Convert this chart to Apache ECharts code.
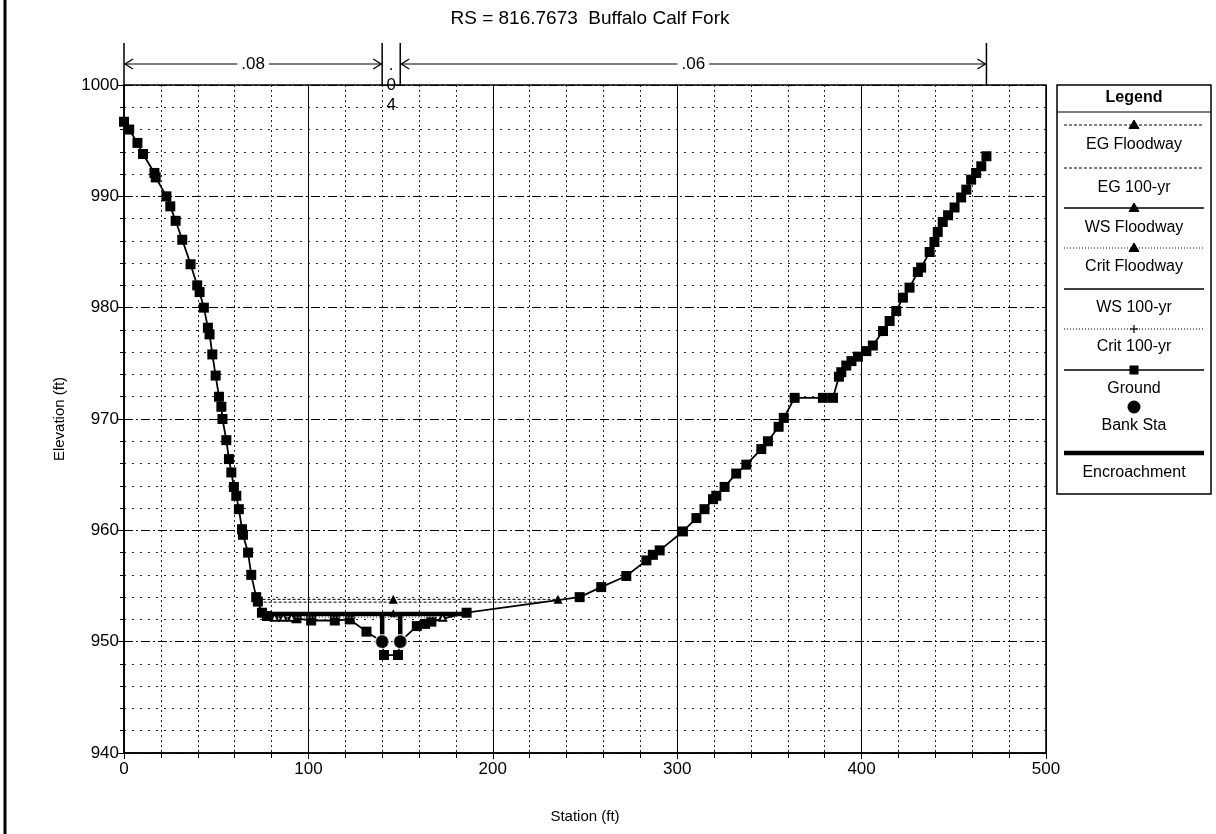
<!DOCTYPE html>
<html>
<head>
<meta charset="utf-8">
<script src="https://cdn.jsdelivr.net/npm/echarts@6/dist/echarts.min.js"></script>
<style>
html, body { margin: 0; padding: 0; background: #fff; }
#chart { width: 1216px; height: 834px; }
</style>
</head>
<body>
<div id="chart"></div>
<script>
// Cross section geometry (station ft, elevation ft)
const groundStation = [0, 2.8, 7.3, 10.3, 16.5, 17.2, 23.0, 25.1, 28.0, 31.6, 36.1, 39.7, 41.0, 43.3, 45.5, 46.4, 47.9, 49.7, 51.5, 52.8, 53.4, 55.5, 56.9, 58.2, 59.6, 60.9, 62.3, 64.0, 64.5, 67.3, 69.0, 71.7, 72.6, 74.8, 77.5, 93.5, 101.5, 114.3, 122.4, 131.5, 140.0, 141.0, 148.6, 149.8, 158.8, 163.3, 166.7, 185.8, 247.1, 258.8, 272.4, 283.3, 286.8, 290.5, 303.1, 310.4, 314.8, 319.4, 321.2, 325.7, 332.0, 337.5, 345.6, 349.2, 355.0, 357.8, 363.7, 379.0, 384.5, 387.7, 389.0, 391.7, 394.5, 398.0, 402.6, 406.1, 411.6, 415.2, 418.8, 422.4, 426.0, 430.5, 432.3, 436.9, 439.5, 441.3, 444.0, 446.9, 450.4, 454.0, 456.8, 459.4, 462.1, 464.9, 467.7];
const groundElevation = [996.7, 996.0, 994.8, 993.8, 992.1, 991.7, 990.0, 989.1, 987.8, 986.1, 983.9, 982.0, 981.4, 980.0, 978.2, 977.6, 975.8, 973.9, 972.0, 971.1, 970.0, 968.1, 966.4, 965.2, 963.9, 963.1, 961.9, 960.1, 959.6, 958.0, 956.0, 954.0, 953.6, 952.6, 952.3, 952.1, 951.9, 951.9, 952.0, 950.9, 950.0, 948.8, 948.8, 950.0, 951.4, 951.6, 951.8, 952.6, 954.0, 954.9, 955.9, 957.3, 957.8, 958.2, 959.9, 961.1, 961.9, 962.8, 963.1, 963.9, 965.1, 965.9, 967.3, 968.0, 969.3, 970.1, 971.9, 971.9, 971.9, 973.8, 974.2, 974.8, 975.2, 975.6, 976.1, 976.6, 977.9, 978.8, 979.7, 980.9, 981.8, 983.2, 983.6, 985.0, 985.9, 986.8, 987.7, 988.3, 989.0, 989.9, 990.6, 991.5, 992.1, 992.7, 993.6];

const bankStation = [140.0, 149.8];
const bankElevation = [950.0, 950.0];

const encroachStation = [140.0, 149.8];
const encroachBottom = [950.0, 950.0];
const encroachTop = [952.55, 952.55];

const egFloodwayStation = [72.4, 146.0, 235.4];
const egFloodwayElevation = [953.8, 953.8, 953.8];
const eg100Station = [73.0, 227.0];
const eg100Elevation = [953.55, 953.55];
const wsFloodwayStation = [74.9, 146.0, 185.7];
const wsFloodwayElevation = [952.55, 952.55, 952.55];
const ws100Station = [75.8, 185.0];
const ws100Elevation = [952.4, 952.4];
const critFloodwayStation = [81.7, 86.3, 90.9, 172.8];
const critFloodwayElevation = [952.2, 952.2, 952.2, 952.2];
const crit100Station = [76.5, 146.0, 180.0];
const crit100Elevation = [952.2, 952.2, 952.2];

// Manning's n regions along the top of the section
const nBreaks = [0, 140.0, 149.8, 467.7];
const nValues = ['.08', '.04', '.06'];

const FONT = 'Liberation Sans, Arial, sans-serif';
const zip = (xs, ys) => xs.map((x, i) => [x, ys[i]]);

const chart = echarts.init(document.getElementById('chart'), null, { renderer: 'canvas' });

const encroachData = [];
encroachStation.forEach((s, i) => {
  encroachData.push([s, encroachBottom[i]], [s, encroachTop[i]], '-');
});

const option = {
  backgroundColor: '#fff',
  animation: false,
  title: {
    text: 'RS = 816.7673  Buffalo Calf Fork',
    left: 585, top: 4, textAlign: 'center',
    textStyle: { fontFamily: FONT, fontSize: 19, fontWeight: 'normal', color: '#000' }
  },
  grid: {
    left: 124, top: 85, width: 922, height: 668,
    show: true, borderColor: '#000', borderWidth: 1.5, backgroundColor: 'transparent'
  },
  xAxis: {
    type: 'value', min: 0, max: 500, interval: 100,
    name: 'Station (ft)', nameLocation: 'middle', nameGap: 56,
    nameTextStyle: { fontFamily: FONT, fontSize: 15, color: '#000' },
    axisLine: { lineStyle: { color: '#000', width: 1.5 } },
    axisTick: { length: 6, lineStyle: { color: '#000' } },
    minorTick: { show: true, splitNumber: 5, length: 5, lineStyle: { color: '#000' } },
    axisLabel: { fontFamily: FONT, fontSize: 17, color: '#000', margin: 8 },
    splitLine: { show: true, lineStyle: { color: '#000', width: 1, type: 'solid' } },
    minorSplitLine: { show: true, lineStyle: { color: '#000', width: 1, type: [2, 3], opacity: 0.85 } }
  },
  yAxis: {
    type: 'value', min: 940, max: 1000, interval: 10,
    name: 'Elevation (ft)', nameLocation: 'middle', nameGap: 57,
    nameTextStyle: { fontFamily: FONT, fontSize: 15, color: '#000' },
    axisLine: { show: true, lineStyle: { color: '#000', width: 1.5 } },
    axisTick: { show: true, length: 7, lineStyle: { color: '#000' } },
    minorTick: { show: true, splitNumber: 5, length: 4, lineStyle: { color: '#000' } },
    axisLabel: { fontFamily: FONT, fontSize: 17, color: '#000', margin: 5, formatter: v => String(v) },
    splitLine: { show: true, lineStyle: { color: '#000', width: 1, type: [9, 3, 2, 3] } },
    minorSplitLine: { show: true, lineStyle: { color: '#000', width: 1, type: [2, 6], opacity: 0.85 } }
  },
  series: [
    {
      name: 'EG Floodway', type: 'line', z: 3,
      data: zip(egFloodwayStation, egFloodwayElevation).map((p, i) => i === 0 ? { value: p, symbol: 'none' } : { value: p }),
      symbol: 'triangle', symbolSize: 9,
      itemStyle: { color: '#000' },
      lineStyle: { color: '#000', width: 1, type: [3, 2] }
    },
    {
      name: 'EG 100-yr', type: 'line', z: 3, showSymbol: false,
      data: zip(eg100Station, eg100Elevation),
      lineStyle: { color: '#000', width: 1, type: [3, 2] }
    },
    {
      name: 'Crit 100-yr', type: 'line', z: 3, showSymbol: false,
      data: zip(crit100Station, crit100Elevation),
      lineStyle: { color: '#000', width: 1, type: [1, 2] }
    },
    {
      name: 'WS 100-yr', type: 'line', z: 4, showSymbol: false,
      data: zip(ws100Station, ws100Elevation),
      lineStyle: { color: '#000', width: 2.5 }
    },
    {
      name: 'WS Floodway', type: 'line', z: 4,
      data: zip(wsFloodwayStation, wsFloodwayElevation).map((p, i) => i === 1 ? { value: p } : { value: p, symbol: 'none' }),
      symbol: 'triangle', symbolSize: 8,
      itemStyle: { color: '#000' },
      lineStyle: { color: '#000', width: 3 }
    },
    {
      name: 'Crit Floodway', type: 'line', z: 6,
      data: zip(critFloodwayStation, critFloodwayElevation),
      symbol: 'emptyTriangle', symbolSize: 7,
      itemStyle: { color: '#000', borderColor: '#fff' },
      lineStyle: { color: '#fff', width: 1, type: [1, 2] }
    },
    {
      name: 'Ground', type: 'line', z: 5,
      data: zip(groundStation, groundElevation),
      symbol: 'rect', symbolSize: 10,
      itemStyle: { color: '#000' },
      lineStyle: { color: '#000', width: 1.8 }
    },
    {
      name: 'Encroachment', type: 'line', z: 7, showSymbol: false,
      data: encroachData, connectNulls: false,
      lineStyle: { color: '#000', width: 4.5 }
    },
    {
      name: 'Bank Sta', type: 'scatter', z: 8,
      data: zip(bankStation, bankElevation),
      symbol: 'circle', symbolSize: 14,
      itemStyle: { color: '#000', borderColor: '#fff', borderWidth: 1.2 }
    }
  ]
};

chart.setOption(option);

// Annotations and legend drawn in pixel space from the chart's own scales
const toPx = (s, e) => chart.convertToPixel({ gridIndex: 0 }, [s, e]);
const yTop = toPx(0, 1000)[1];
const yArrow = yTop - 21;
const yTickTop = yTop - 42;
const g = [];

// page edge
g.push({ type: 'line', shape: { x1: 5, y1: 0, x2: 5, y2: 834 }, style: { stroke: '#000', lineWidth: 3 } });

const bx = nBreaks.map(s => toPx(s, 1000)[0]);
bx.forEach(x => {
  g.push({ type: 'line', shape: { x1: x, y1: yTickTop, x2: x, y2: yTop }, style: { stroke: '#000', lineWidth: 1.5 } });
});
const arrowL = x => ({ type: 'polyline', shape: { points: [[x + 9, yArrow - 5], [x + 1, yArrow], [x + 9, yArrow + 5]] }, style: { stroke: '#000', lineWidth: 1.3, fill: null } });
const arrowR = x => ({ type: 'polyline', shape: { points: [[x - 9, yArrow - 5], [x - 1, yArrow], [x - 9, yArrow + 5]] }, style: { stroke: '#000', lineWidth: 1.3, fill: null } });
[0, 2].forEach(i => {
  const x1 = bx[i], x2 = bx[i + 1];
  g.push({ type: 'line', shape: { x1: x1 + 1, y1: yArrow, x2: x2 - 1, y2: yArrow }, style: { stroke: '#000', lineWidth: 1.2 } });
  g.push(arrowL(x1), arrowR(x2));
  g.push({
    type: 'text', x: (x1 + x2) / 2, y: yArrow, z: 10,
    style: { text: nValues[i], font: '17px ' + FONT, fill: '#000', align: 'center', verticalAlign: 'middle', backgroundColor: '#fff', padding: [0, 4] }
  });
});
// narrow channel region: value stacked vertically
g.push({
  type: 'text', x: (bx[1] + bx[2]) / 2, y: yTop - 30, z: 10,
  style: { text: nValues[1].split('').join('\n'), font: '17px ' + FONT, fill: '#000', align: 'center', verticalAlign: 'top', lineHeight: 20 }
});

// legend panel
const LX = 1057, LR = 1211, LT = 85, LB = 494, LC = (LX + LR) / 2;
const sx1 = 1064, sx2 = 1204;
g.push({ type: 'rect', shape: { x: LX, y: LT, width: LR - LX, height: LB - LT }, style: { stroke: '#000', lineWidth: 1.5, fill: '#fff' } });
g.push({ type: 'line', shape: { x1: LX, y1: 112, x2: LR, y2: 112 }, style: { stroke: '#000', lineWidth: 1.2 } });
g.push({ type: 'text', x: LC, y: 98, style: { text: 'Legend', font: 'bold 16px ' + FONT, fill: '#000', align: 'center', verticalAlign: 'middle' } });

const tri = (x, y, filled) => ({ type: 'polygon', shape: { points: [[x, y - 5], [x - 5, y + 3.5], [x + 5, y + 3.5]] }, style: { fill: filled ? '#000' : '#fff', stroke: '#000', lineWidth: 1 } });
const legendItems = [
  { label: 'EG Floodway', ly: 125, ty: 145, dash: [3, 2], w: 1, mark: 'tri' },
  { label: 'EG 100-yr', ly: 168, ty: 188, dash: [3, 2], w: 1 },
  { label: 'WS Floodway', ly: 208, ty: 228, dash: null, w: 1.5, mark: 'tri' },
  { label: 'Crit Floodway', ly: 248, ty: 267, dash: [1, 2], w: 1, mark: 'tri' },
  { label: 'WS 100-yr', ly: 289, ty: 308, dash: null, w: 1.5 },
  { label: 'Crit 100-yr', ly: 329, ty: 347, dash: [1, 2], w: 1, mark: 'plus' },
  { label: 'Ground', ly: 370, ty: 389, dash: null, w: 1.5, mark: 'rect' },
  { label: 'Bank Sta', ly: null, ty: 426, mark: 'circle', my: 407 },
  { label: 'Encroachment', ly: 453, ty: 473, dash: null, w: 4.5 }
];
legendItems.forEach(it => {
  if (it.ly !== null) {
    g.push({ type: 'line', shape: { x1: sx1, y1: it.ly, x2: sx2, y2: it.ly }, style: { stroke: '#000', lineWidth: it.w, lineDash: it.dash } });
  }
  if (it.mark === 'tri') g.push(tri(LC, it.ly, true));
  if (it.mark === 'rect') g.push({ type: 'rect', shape: { x: LC - 4.5, y: it.ly - 4.5, width: 9, height: 9 }, style: { fill: '#000' } });
  if (it.mark === 'plus') {
    g.push({ type: 'line', shape: { x1: LC - 4, y1: it.ly, x2: LC + 4, y2: it.ly }, style: { stroke: '#000', lineWidth: 1.2 } });
    g.push({ type: 'line', shape: { x1: LC, y1: it.ly - 4, x2: LC, y2: it.ly + 4 }, style: { stroke: '#000', lineWidth: 1.2 } });
  }
  if (it.mark === 'circle') g.push({ type: 'circle', shape: { cx: LC, cy: it.my, r: 6.5 }, style: { fill: '#000' } });
  g.push({ type: 'text', x: LC, y: it.ty, style: { text: it.label, font: '16px ' + FONT, fill: '#000', align: 'center', verticalAlign: 'middle' } });
});

chart.setOption({ graphic: { elements: g } });
</script>
</body>
</html>
